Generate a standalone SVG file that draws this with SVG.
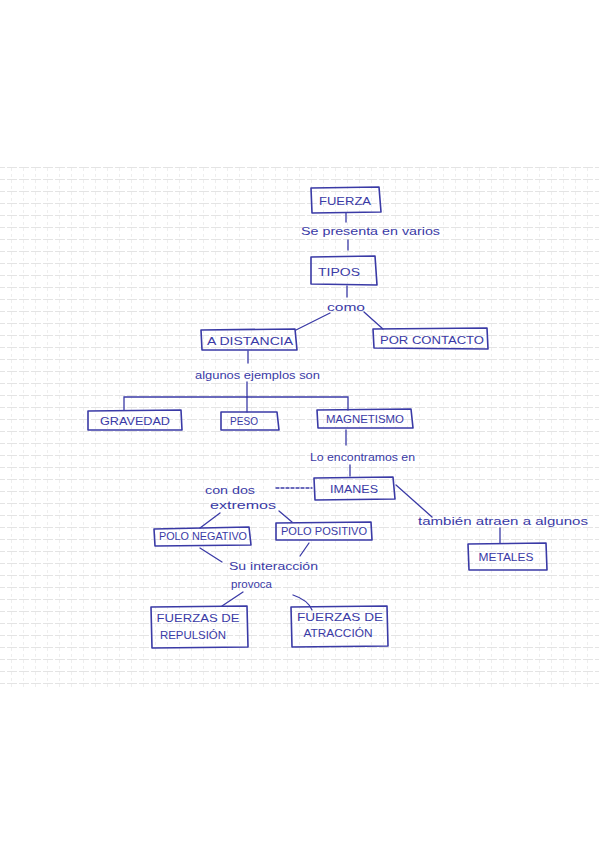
<svg xmlns="http://www.w3.org/2000/svg" width="599" height="848" viewBox="0 0 599 848">
<defs>
<pattern id="grid" width="12" height="12" patternUnits="userSpaceOnUse">
<path d="M0 11.5 H12" stroke="#d8d8d8" stroke-width="0.7" stroke-dasharray="5 2"/>
<path d="M11.5 0 V12" stroke="#e2e2e2" stroke-width="0.6" stroke-dasharray="3 3"/>
</pattern>
<style>
.box{fill:none;stroke:#3a3aa6;stroke-width:1.6;stroke-linejoin:round}
.ln{fill:none;stroke:#3a3aa6;stroke-width:1.3;stroke-linecap:round}
.lbl{font-family:"Liberation Sans",Arial,sans-serif;font-size:11px;fill:#3a3aa6;text-anchor:middle}
.lk{font-family:"Liberation Sans",Arial,sans-serif;font-size:11px;fill:#3a3aa6}
</style>
</defs>
<rect x="0" y="0" width="599" height="848" fill="#ffffff"/>
<rect x="0" y="165" width="599" height="525" fill="url(#grid)"/>

<g id="connectors">
<path class="ln" d="M346 213 V222"/>
<path class="ln" d="M348 240 V250"/>
<path class="ln" d="M347 286 V297"/>
<path class="ln" d="M330 313 L296 330"/>
<path class="ln" d="M364 312 L383 329"/>
<path class="ln" d="M248 351 V363"/>
<path class="ln" d="M247 382 V397"/>
<path class="ln" d="M124 410 V397 H348 V410"/>
<path class="ln" d="M247 397 V412"/>
<path class="ln" d="M346 430 V445"/>
<path class="ln" d="M350 465 V476"/>
<path class="ln" d="M276 488 H312" stroke-dasharray="3 2"/>
<path class="ln" d="M396 485 L432 517"/>
<path class="ln" d="M500 528 V543"/>
<path class="ln" d="M220 513 L200 528"/>
<path class="ln" d="M279 511 L292 522"/>
<path class="ln" d="M200 548 L222 562"/>
<path class="ln" d="M309 543 L300 556"/>
<path class="ln" d="M243 592 L222 606"/>
<path class="ln" d="M293 595 Q308 600 312 610"/>
</g>

<g id="link-labels">
<text class="lk" x="301" y="235" textLength="139" lengthAdjust="spacingAndGlyphs">Se presenta en varios</text>
<text class="lk" x="327" y="311" textLength="38" lengthAdjust="spacingAndGlyphs">como</text>
<text class="lk" x="195" y="379" textLength="125" lengthAdjust="spacingAndGlyphs">algunos ejemplos son</text>
<text class="lk" x="310" y="461" textLength="105" lengthAdjust="spacingAndGlyphs">Lo encontramos en</text>
<text class="lk" x="205" y="494" textLength="50" lengthAdjust="spacingAndGlyphs">con dos</text>
<text class="lk" x="210" y="509" textLength="66" lengthAdjust="spacingAndGlyphs">extremos</text>
<text class="lk" x="418" y="525" textLength="170" lengthAdjust="spacingAndGlyphs">también atraen a algunos</text>
<text class="lk" x="229" y="570" textLength="89" lengthAdjust="spacingAndGlyphs">Su interacción</text>
<text class="lk" x="231" y="588" textLength="41" lengthAdjust="spacingAndGlyphs">provoca</text>
</g>

<g id="node-fuerza">
<path class="box" d="M311 188 L379 187 L381 212 L312 213 Z"/>
<text class="lbl" x="345" y="205" textLength="52" lengthAdjust="spacingAndGlyphs">FUERZA</text>
</g>
<g id="node-tipos">
<path class="box" d="M311 257 L375 256 L377 285 L311 284 Z"/>
<text class="lbl" x="339" y="276" textLength="42" lengthAdjust="spacingAndGlyphs">TIPOS</text>
</g>
<g id="node-a-distancia">
<path class="box" d="M201 330 L295 329 L297 350 L202 350 Z"/>
<text class="lbl" x="250" y="345" textLength="86" lengthAdjust="spacingAndGlyphs">A DISTANCIA</text>
</g>
<g id="node-por-contacto">
<path class="box" d="M373 329 L487 328 L488 349 L374 348 Z"/>
<text class="lbl" x="432" y="344" textLength="104" lengthAdjust="spacingAndGlyphs">POR CONTACTO</text>
</g>
<g id="node-gravedad">
<path class="box" d="M88 411 L181 410 L182 430 L88 430 Z"/>
<text class="lbl" x="135" y="425" textLength="70" lengthAdjust="spacingAndGlyphs">GRAVEDAD</text>
</g>
<g id="node-peso">
<path class="box" d="M221 412 L277 412 L279 430 L221 430 Z"/>
<text class="lbl" x="244" y="425" textLength="28" lengthAdjust="spacingAndGlyphs">PESO</text>
</g>
<g id="node-magnetismo">
<path class="box" d="M317 410 L411 409 L413 428 L318 428 Z"/>
<text class="lbl" x="365" y="423" textLength="78" lengthAdjust="spacingAndGlyphs">MAGNETISMO</text>
</g>
<g id="node-imanes">
<path class="box" d="M314 478 L393 477 L395 499 L315 500 Z"/>
<text class="lbl" x="354" y="493" textLength="48" lengthAdjust="spacingAndGlyphs">IMANES</text>
</g>
<g id="node-metales">
<path class="box" d="M468 544 L546 543 L547 570 L469 570 Z"/>
<text class="lbl" x="506" y="561" textLength="55" lengthAdjust="spacingAndGlyphs">METALES</text>
</g>
<g id="node-polo-negativo">
<path class="box" d="M154 529 L249 527 L251 545 L155 546 Z"/>
<text class="lbl" x="203" y="540" textLength="88" lengthAdjust="spacingAndGlyphs">POLO NEGATIVO</text>
</g>
<g id="node-polo-positivo">
<path class="box" d="M276 523 L371 522 L372 540 L276 540 Z"/>
<text class="lbl" x="324" y="535" textLength="86" lengthAdjust="spacingAndGlyphs">POLO POSITIVO</text>
</g>
<g id="node-repulsion">
<path class="box" d="M151 607 L247 606 L248 647 L152 648 Z"/>
<text class="lbl" x="198" y="622" textLength="83" lengthAdjust="spacingAndGlyphs">FUERZAS DE</text>
<text class="lbl" x="193" y="639" textLength="66" lengthAdjust="spacingAndGlyphs">REPULSIÓN</text>
</g>
<g id="node-atraccion">
<path class="box" d="M291 607 L387 606 L388 646 L292 647 Z"/>
<text class="lbl" x="340" y="621" textLength="86" lengthAdjust="spacingAndGlyphs">FUERZAS DE</text>
<text class="lbl" x="338" y="637" textLength="69" lengthAdjust="spacingAndGlyphs">ATRACCIÓN</text>
</g>
</svg>
